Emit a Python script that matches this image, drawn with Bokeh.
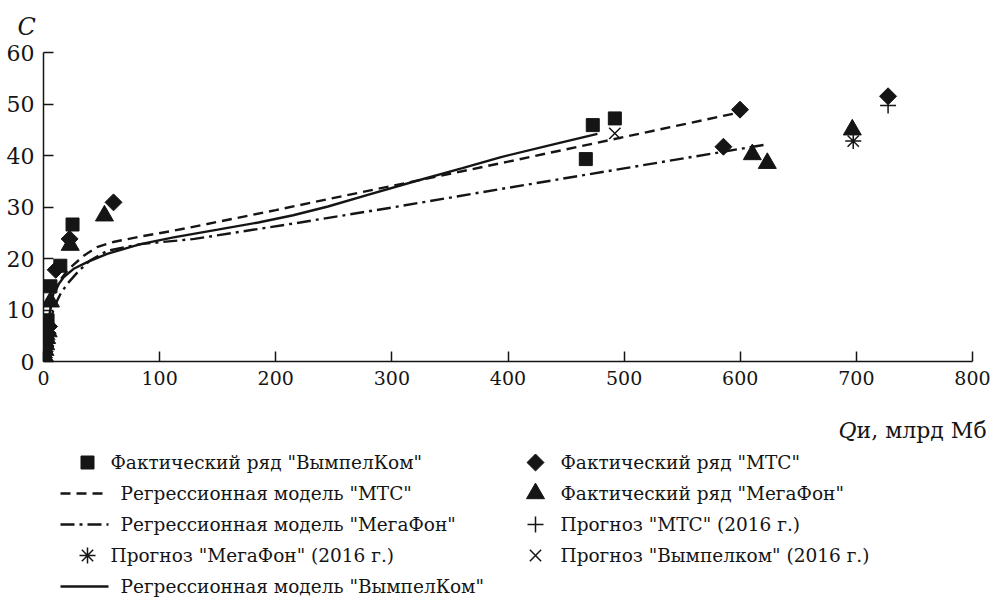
from bokeh.plotting import figure
from bokeh.models import Range1d, FixedTicker, Title, Plot
from bokeh.layouts import column
from bokeh.core.properties import value
from bokeh.embed import file_html
from bokeh.resources import INLINE
import math

# ---------------- data ----------------
vympel_x = [0.3, 0.8, 1.5, 2.3, 3.0, 3.5, 6.0, 14.5, 25.0, 467.0, 473.0, 492.0]
vympel_y = [0.6, 1.5, 2.6, 3.8, 5.2, 8.0, 14.6, 18.6, 26.6, 39.3, 45.9, 47.2]

mts_x = [0.4, 1.0, 1.8, 2.6, 3.6, 4.8, 10.5, 22.5, 60.3, 585.5, 599.8, 727.3]
mts_y = [0.8, 1.9, 3.0, 4.3, 5.5, 6.8, 17.8, 23.8, 30.9, 41.7, 48.9, 51.5]

mega_x = [0.2, 0.6, 1.2, 1.9, 2.7, 4.0, 6.0, 23.0, 52.5, 610.4, 623.3, 696.5]
mega_y = [0.3, 1.1, 2.2, 3.3, 4.5, 5.8, 11.6, 22.6, 28.3, 40.2, 38.5, 45.0]

mts_fc_x, mts_fc_y = [727.3], [49.7]
mega_fc_x, mega_fc_y = [697.3], [42.8]
vympel_fc_x, vympel_fc_y = [492.0], [44.3]

mts_reg_x = [0.5, 2, 5, 10, 15, 20, 25, 35, 46, 60, 84, 112, 141, 200, 300, 400, 500, 596]
mts_reg_y = [1.0, 5.0, 9.5, 13.5, 16.0, 17.5, 18.6, 20.6, 22.2, 23.2, 24.3, 25.4, 26.7, 29.4, 34.1, 38.8, 43.6, 48.2]

mega_reg_x = [0.5, 2, 5, 10, 15, 21, 30, 40, 55, 84, 130, 221, 300, 394, 500, 624]
mega_reg_y = [0.5, 3.5, 7.5, 11.0, 13.3, 15.2, 17.5, 19.6, 21.5, 22.8, 23.8, 27.0, 29.9, 33.5, 37.5, 42.2]

vympel_reg_x = [0.5, 2, 5, 9, 17.5, 26, 37.6, 54.8, 83.5, 112, 150, 185, 215, 245, 280, 320, 360, 394, 440, 477]
vympel_reg_y = [1.0, 4.0, 9.0, 13.8, 16.4, 18.0, 19.3, 20.9, 22.8, 24.1, 25.6, 27.0, 28.4, 30.1, 32.4, 35.0, 37.5, 39.7, 42.2, 44.2]

x_ticks = [0, 100, 200, 300, 400, 500, 600, 700, 800]
y_ticks = [0, 10, 20, 30, 40, 50, 60]

x_label_q = "Q"
x_label_rest = "и, млрд Мб"
y_label = "C"

legend_left = [
    ("square", "Фактический ряд \"ВымпелКом\""),
    ("dash", "Регрессионная модель \"МТС\""),
    ("dashdot", "Регрессионная модель \"МегаФон\""),
    ("asterisk", "Прогноз \"МегаФон\" (2016 г.)"),
    ("solid", "Регрессионная модель \"ВымпелКом\""),
]
legend_right = [
    ("diamond", "Фактический ряд \"МТС\""),
    ("triangle", "Фактический ряд \"МегаФон\""),
    ("cross", "Прогноз \"МТС\" (2016 г.)"),
    ("x", "Прогноз \"Вымпелком\" (2016 г.)"),
]

# ---------------- styles ----------------
INK = "#151515"
FONT = "DejaVu Serif"
DASH = "10 6"
DASHDOT = "14 5 3 5"
LW = 2.4

FRAME_L, FRAME_R = 43, 20
MAIN_H = 401
HAS_FRAME_ALIGN = "frame_align" in Plot.properties()

p = figure(width=992, height=MAIN_H, output_backend="svg", toolbar_location=None,
           x_range=Range1d(0, 800), y_range=Range1d(0, 60),
           min_border_left=FRAME_L, min_border_right=FRAME_R, min_border_top=52,
           min_border_bottom=MAIN_H - 361)
p.outline_line_color = None
p.grid.grid_line_color = None
p.background_fill_color = "white"
p.border_fill_color = "white"

p.title = Title(text=y_label, align="left", offset=-26, text_font=FONT,
                text_font_size="24px", text_font_style="italic", text_color=INK,
                vertical_align="top", standoff=20)

for ax in (p.xaxis, p.yaxis):
    ax.axis_line_color = INK
    ax.axis_line_width = 1.5
    ax.major_tick_line_color = INK
    ax.major_tick_line_width = 1.5
    ax.major_tick_in = 10
    ax.major_tick_out = 0
    ax.minor_tick_line_color = None
    ax.major_label_text_font = FONT
    ax.major_label_text_color = INK
p.xaxis.major_label_text_font_size = "19px"
p.yaxis.major_label_text_font_size = "22px"
p.xaxis.ticker = FixedTicker(ticks=x_ticks)
p.yaxis.ticker = FixedTicker(ticks=y_ticks)
p.xaxis.major_label_standoff = 9
p.yaxis.major_label_standoff = 9

# regression lines
p.line(mts_reg_x, mts_reg_y, line_color=INK, line_width=LW, line_dash=DASH)
p.line(mega_reg_x, mega_reg_y, line_color=INK, line_width=LW, line_dash=DASHDOT)
p.line(vympel_reg_x, vympel_reg_y, line_color=INK, line_width=LW)

# actual series
p.scatter(vympel_x, vympel_y, marker="square", size=13, fill_color=INK, line_color=INK)
p.scatter(mts_x, mts_y, marker="square", size=12, angle=math.pi / 4, fill_color=INK, line_color=INK)
p.scatter(mega_x, mega_y, marker="triangle", size=18, fill_color=INK, line_color=INK)

# forecasts
p.scatter(mts_fc_x, mts_fc_y, marker="cross", size=16, line_color=INK, line_width=1.5)
p.scatter(mega_fc_x, mega_fc_y, marker="asterisk", size=16, line_color=INK, line_width=1.5)
p.scatter(vympel_fc_x, vympel_fc_y, marker="x", size=16, line_color=INK, line_width=1.5)

# ---------------- lower panel: axis title + legend (page-pixel coordinates) ----------------
LEG_TOP = MAIN_H
if HAS_FRAME_ALIGN:
    leg_l, leg_r, q_shift = 0, 0, 0
else:
    leg_l, leg_r, q_shift = FRAME_L, FRAME_R, -20
leg = figure(width=992, height=599 - LEG_TOP, output_backend="svg", toolbar_location=None,
             x_range=Range1d(leg_l, 992 - leg_r), y_range=Range1d(599, LEG_TOP),
             x_axis_location=None, y_axis_location=None,
             min_border_left=leg_l, min_border_right=leg_r,
             min_border_top=0, min_border_bottom=0)
if HAS_FRAME_ALIGN:
    leg.frame_align = False
    p.frame_align = False
leg.grid.grid_line_color = None
leg.outline_line_color = None
leg.background_fill_color = "white"
leg.border_fill_color = "white"

# x axis title "Qи, млрд Мб"
leg.text([838 + q_shift], [430], text=[x_label_q], text_font=value(FONT), text_font_size="22px",
         text_font_style="italic", text_color=INK, text_align="left", text_baseline="alphabetic")
leg.text([856 + q_shift], [430], text=[x_label_rest], text_font=value(FONT), text_font_size="22px",
         text_color=INK, text_align="left", text_baseline="alphabetic")

rows_y = [462, 493, 524, 555, 586]
LEG_FS = "18.5px"


def draw_key(fig, kind, cx, cy, x0, x1):
    if kind == "square":
        fig.scatter([cx], [cy], marker="square", size=13, fill_color=INK, line_color=INK)
    elif kind == "diamond":
        fig.scatter([cx], [cy], marker="square", size=12, angle=math.pi / 4, fill_color=INK, line_color=INK)
    elif kind == "triangle":
        fig.scatter([cx], [cy], marker="triangle", size=18, fill_color=INK, line_color=INK)
    elif kind in ("cross", "asterisk", "x"):
        fig.scatter([cx], [cy], marker=kind, size=16, line_color=INK, line_width=1.5)
    else:
        dash = {"dash": DASH, "dashdot": DASHDOT, "solid": "solid"}[kind]
        fig.line([x0, x1], [cy, cy], line_color=INK, line_width=LW, line_dash=dash)


for (kind, label), ry in zip(legend_left, rows_y):
    is_line = kind in ("dash", "dashdot", "solid")
    draw_key(leg, kind, 87, ry, 60, 108)
    tx = 120 if is_line else 110
    leg.text([tx], [ry], text=[label], text_font=value(FONT), text_font_size=LEG_FS,
             text_color=INK, text_align="left", text_baseline="middle")

for (kind, label), ry in zip(legend_right, rows_y):
    draw_key(leg, kind, 535, ry, 0, 0)
    leg.text([560], [ry], text=[label], text_font=value(FONT), text_font_size=LEG_FS,
             text_color=INK, text_align="left", text_baseline="middle")

layout = column(p, leg, spacing=0)
open("out.html", "w").write(file_html(layout, INLINE))
